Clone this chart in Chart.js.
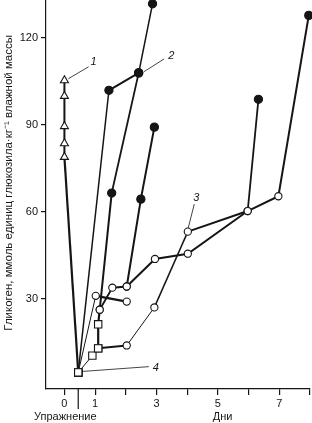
<!DOCTYPE html>
<html>
<head>
<meta charset="utf-8">
<script src="https://cdn.jsdelivr.net/npm/chart.js@4/dist/chart.umd.min.js"></script>
<style>
    html, body { margin: 0; padding: 0; background: #fff; }
    #wrap { width: 312px; height: 423px; position: relative; }
</style>
</head>
<body>
<div id="wrap"><canvas id="chart"></canvas></div>
<script>
// Glycogen curves (x = days, y = glycogen)
const line1X = [0, 0, 0, 0, 0, 0.45];
const line1Y = [105.3, 99.9, 89.5, 83.6, 78.9, 4.7];

const line4X = [0.45, 0.91, 1.1, 2.03, 2.93, 4.02, 5.97, 6.97, 7.96];
const line4Y = [4.7, 10.5, 13, 14, 27.1, 53.2, 60.3, 65.4, 127.7];

const columnX = [1.1, 1.1, 1.15, 1.54, 2.42, 2.87];
const columnY = [13, 21.3, 26.3, 66.5, 107.9, 131.7];

const rapidX = [0.45, 1.45, 2.42];
const rapidY = [4.7, 101.9, 107.9];

const earlyX = [0.45, 1.02, 2.03];
const earlyY = [4.7, 31.1, 29.1];

const line3X = [1.15, 1.56, 2.03, 2.95, 4.02, 5.97, 6.32];
const line3Y = [26.3, 33.9, 34.3, 43.8, 45.6, 60.3, 98.8];

const branchX = [2.03, 2.49, 2.93];
const branchY = [34.3, 64.4, 89.2];

const xTickValues = [0, 1, 2, 3, 4, 5, 6, 7, 8];
const xTickLabels = ['0', '1', '', '3', '', '5', '', '7', ''];
const yTickValues = [30, 60, 90, 120];
const exerciseDay = 0.45;

const curveNames = ['1', '2', '3', '4'];
const nameX = [0.95, 3.48, 4.3, 2.98];
const nameY = [111.7, 113.7, 64.8, 6.3];
const leaderFromX = [0.13, 2.59, 4.02, 0.52];
const leaderFromY = [105.9, 108.3, 53.9, 5];
const leaderToX = [0.79, 3.25, 4.23, 2.75];
const leaderToY = [110, 112.7, 62.7, 6.7];

const yTitle = 'Гликоген, ммоль единиц глюкозила·кг⁻¹ влажной массы';
const exerciseLabel = 'Упражнение';
const daysLabel = 'Дни';

// styles
const INK = '#151515';
const FONT = "'Liberation Sans', Arial, sans-serif";

const markers = {
    t: { style: 'triangle', radius: 4.6, fill: '#fff' },
    s: { style: 'rect', radius: 5.2, fill: '#fff' },
    o: { style: 'circle', radius: 3.6, fill: '#fff' },
    f: { style: 'circle', radius: 4.1, fill: INK }
};

function toPoints(xs, ys) {
    return xs.map((x, i) => ({ x: x, y: ys[i] }));
}

function makeLine(xs, ys, widths) {
    return {
        data: toPoints(xs, ys),
        showLine: true,
        borderColor: INK,
        borderWidth: widths[0],
        segment: { borderWidth: ctx => widths[ctx.p0DataIndex] },
        pointRadius: 0,
        pointHoverRadius: 0,
        clip: false,
        order: 2
    };
}

function makeMarks(xs, ys, kinds) {
    return {
        data: toPoints(xs, ys),
        showLine: false,
        pointStyle: kinds.map(k => markers[k].style),
        pointRadius: kinds.map(k => markers[k].radius),
        pointBackgroundColor: kinds.map(k => markers[k].fill),
        pointBorderColor: INK,
        pointBorderWidth: 1.1,
        clip: false,
        order: 1
    };
}

const datasets = [
    makeLine(line1X, line1Y, [2, 2, 2, 2, 2.2]),
    makeLine(line4X, line4Y, [1, 1.2, 2, 1, 1.5, 2, 2, 2]),
    makeLine(columnX, columnY, [2.2, 2.2, 2, 1.8, 1.5]),
    makeLine(rapidX, rapidY, [1.5, 2]),
    makeLine(earlyX, earlyY, [1, 2.2]),
    makeLine(line3X, line3Y, [1.8, 2, 2, 2, 2, 1.8]),
    makeLine(branchX, branchY, [2, 2]),
    makeMarks(line1X, line1Y, ['t', 't', 't', 't', 't', 's']),
    makeMarks(line4X, line4Y, ['s', 's', 's', 'o', 'o', 'o', 'o', 'o', 'f']),
    makeMarks(columnX, columnY, ['s', 's', 'o', 'f', 'f', 'f']),
    makeMarks(rapidX, rapidY, ['s', 'f', 'f']),
    makeMarks(earlyX, earlyY, ['s', 'o', 'o']),
    makeMarks(line3X, line3Y, ['o', 'o', 'o', 'o', 'o', 'o', 'f']),
    makeMarks(branchX, branchY, ['o', 'f', 'f'])
];

curveNames.forEach((n, i) => {
    datasets.push({
        data: toPoints([leaderFromX[i], leaderToX[i]], [leaderFromY[i], leaderToY[i]]),
        showLine: true,
        borderColor: INK,
        borderWidth: 0.8,
        pointRadius: 0,
        clip: false,
        order: 3
    });
});

const textPlugin = {
    id: 'texts',
    afterDraw(chart) {
        const ctx = chart.ctx;
        const xs = chart.scales.x;
        const ys = chart.scales.y;
        const area = chart.chartArea;
        ctx.save();
        ctx.fillStyle = INK;
        ctx.strokeStyle = INK;

        // long tick marking the exercise
        const ex = xs.getPixelForValue(exerciseDay);
        ctx.lineWidth = 1.2;
        ctx.beginPath();
        ctx.moveTo(ex, area.bottom);
        ctx.lineTo(ex, area.bottom + 20);
        ctx.stroke();

        ctx.font = '11px ' + FONT;
        ctx.textAlign = 'center';
        ctx.textBaseline = 'middle';
        ctx.fillText(exerciseLabel, xs.getPixelForValue(0.03), area.bottom + 28);
        ctx.fillText(daysLabel, xs.getPixelForValue(5.15), area.bottom + 28);

        ctx.font = 'italic 11px ' + FONT;
        curveNames.forEach((n, i) => {
            ctx.fillText(n, xs.getPixelForValue(nameX[i]), ys.getPixelForValue(nameY[i]));
        });

        ctx.font = '11.5px ' + FONT;
        ctx.translate(9, area.top + (area.bottom - area.top) * 0.47);
        ctx.rotate(-Math.PI / 2);
        ctx.fillText(yTitle, 0, 0);
        ctx.restore();
    }
};

new Chart(document.getElementById('chart'), {
    type: 'scatter',
    data: { datasets: datasets },
    plugins: [textPlugin],
    options: {
        responsive: true,
        maintainAspectRatio: false,
        animation: false,
        events: [],
        layout: { autoPadding: false, padding: { top: 0, right: 2, bottom: 0, left: 0 } },
        plugins: {
            legend: { display: false },
            tooltip: { enabled: false }
        },
        scales: {
            x: {
                type: 'linear',
                min: -0.6,
                max: 8,
                afterBuildTicks: s => { s.ticks = xTickValues.map(v => ({ value: v })); },
                afterFit: s => {
                    s.height = 34;
                    s.paddingLeft = 0;
                    s.paddingRight = 0;
                },
                ticks: {
                    autoSkip: false,
                    maxRotation: 0,
                    padding: 2,
                    color: INK,
                    font: { family: FONT, size: 11 },
                    callback: v => xTickLabels[xTickValues.indexOf(v)] || ''
                },
                grid: { drawOnChartArea: false, tickLength: 6, color: INK, lineWidth: 1.2 },
                border: { color: INK, width: 1.2 }
            },
            y: {
                type: 'linear',
                min: -1,
                max: 133,
                afterBuildTicks: s => { s.ticks = yTickValues.map(v => ({ value: v })); },
                afterFit: s => {
                    s.width = 46;
                    s.paddingTop = 0;
                    s.paddingBottom = 0;
                },
                ticks: {
                    padding: 3,
                    color: INK,
                    font: { family: FONT, size: 11 },
                    callback: v => String(v)
                },
                grid: { drawOnChartArea: false, tickLength: 5, color: INK, lineWidth: 1.2 },
                border: { color: INK, width: 1.2 }
            }
        }
    }
});
</script>
</body>
</html>
